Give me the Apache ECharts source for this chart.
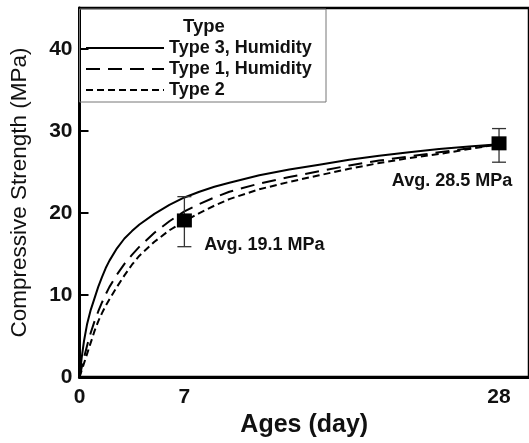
<!DOCTYPE html>
<html>
<head>
<meta charset="utf-8">
<script src="https://cdn.jsdelivr.net/npm/echarts@6/dist/echarts.min.js"></script>
<style>
  html, body { margin: 0; padding: 0; background: #fff; }
  #chart { width: 529px; height: 443px; }
</style>
</head>
<body>
<div id="chart"></div>
<script>
// Strength development curves (days vs MPa)
const type3Days = [0, 0.15, 0.3, 0.5, 0.75, 1, 1.25, 1.5, 1.75, 2, 2.5, 3, 3.5, 4, 5, 6, 7, 8, 9, 10, 12, 14, 16, 18, 20, 22, 24, 26, 28];
const type3Vals = [0, 2.4, 4.4, 6.4, 8.2, 9.6, 11.0, 12.2, 13.3, 14.2, 15.7, 16.9, 17.8, 18.6, 19.9, 21.0, 21.9, 22.6, 23.2, 23.7, 24.6, 25.3, 25.9, 26.5, 27.0, 27.4, 27.8, 28.1, 28.4];

const type1Days = [0, 0.25, 0.5, 0.75, 1, 1.25, 1.5, 1.75, 2, 2.5, 3, 3.5, 4, 5, 6, 7, 8, 9, 10, 12, 14, 16, 18, 20, 22, 24, 26, 28];
const type1Vals = [0, 2.0, 3.8, 5.4, 6.8, 8.0, 9.1, 10.1, 11.0, 12.5, 13.8, 14.9, 15.9, 17.6, 19.0, 20.2, 21.1, 21.9, 22.6, 23.6, 24.4, 25.1, 25.8, 26.4, 26.9, 27.4, 27.9, 28.4];

const type2Days = [0, 0.25, 0.5, 0.75, 1, 1.25, 1.5, 1.75, 2, 2.5, 3, 3.5, 4, 5, 6, 7, 8, 9, 10, 12, 14, 16, 18, 20, 22, 24, 26, 28];
const type2Vals = [0, 1.4, 2.8, 4.2, 5.6, 6.8, 7.8, 8.7, 9.5, 11.0, 12.4, 13.7, 14.8, 16.5, 17.9, 19.0, 20.0, 20.9, 21.7, 22.9, 23.8, 24.6, 25.4, 26.1, 26.7, 27.2, 27.8, 28.4];

// Measured averages with spread
const avgDays = [7, 28];
const avgVals = [19.1, 28.5];
const errLow = [15.9, 26.2];
const errHigh = [22.0, 30.3];

// Axis ticks
const xTicks = [0, 7, 28];
const yTicks = [0, 10, 20, 30, 40];

const seriesNames = ['Type 3, Humidity', 'Type 1, Humidity', 'Type 2'];
const legendTitle = 'Type';

const FONT = '"Liberation Sans", Arial, Helvetica, sans-serif';

const zip = (xs, ys) => xs.map((x, i) => [x, ys[i]]);

const chart = echarts.init(document.getElementById('chart'), null, { renderer: 'canvas' });

const lineBase = {
  type: 'line',
  symbol: 'none',
  showSymbol: false,
  smooth: false,
  silent: true,
  z: 3
};

const labelOffsets = [[80, 25], [-47, 38]];

chart.setOption({
  animation: false,
  backgroundColor: '#fff',
  textStyle: { fontFamily: FONT },
  grid: {
    left: 79.5, top: 8, width: 453.6, height: 383,
    show: true, borderColor: '#000', borderWidth: 2.5, backgroundColor: 'transparent'
  },
  xAxis: {
    type: 'value', min: 0, max: 30,
    name: 'Ages (day)', nameLocation: 'middle', nameGap: 34,
    nameTextStyle: { fontFamily: FONT, fontWeight: 'bold', fontSize: 25, color: '#111' },
    axisLine: { show: true, onZero: false, lineStyle: { color: '#000', width: 3 } },
    axisTick: { show: false },
    splitLine: { show: false },
    axisLabel: {
      customValues: xTicks, margin: 10,
      fontFamily: FONT, fontWeight: 'bold', fontSize: 21, color: '#111'
    }
  },
  yAxis: {
    type: 'value', min: 0, max: 45,
    name: 'Compressive Strength (MPa)', nameLocation: 'middle', nameGap: 48,
    nameTextStyle: { fontFamily: FONT, fontSize: 22.5, color: '#111' },
    axisLine: { show: true, onZero: false, lineStyle: { color: '#000', width: 3 } },
    axisTick: { show: true, inside: true, length: 9, customValues: yTicks, lineStyle: { color: '#000', width: 2 } },
    splitLine: { show: false },
    axisLabel: {
      customValues: yTicks, margin: 7,
      fontFamily: FONT, fontWeight: 'bold', fontSize: 21, color: '#111'
    }
  },
  legend: {
    data: seriesNames,
    orient: 'vertical',
    left: 85, top: 39,
    padding: 0,
    itemWidth: 78, itemHeight: 14, itemGap: 3,
    selectedMode: false,
    itemStyle: { opacity: 0 },
    textStyle: { fontFamily: FONT, fontWeight: 'bold', fontSize: 18, color: '#111' }
  },
  graphic: [
    {
      type: 'rect', silent: true, z: 1,
      shape: { x: 79.5, y: 9, width: 246.5, height: 93 },
      style: { fill: 'none', stroke: '#777', lineWidth: 1 }
    },
    {
      type: 'text', silent: true, z: 2,
      x: 204, y: 27,
      style: {
        text: legendTitle, fill: '#111',
        font: 'bold 18.5px ' + FONT,
        textAlign: 'center', textVerticalAlign: 'middle'
      }
    }
  ],
  series: [
    Object.assign({}, lineBase, {
      name: seriesNames[0],
      data: zip(type3Days, type3Vals),
      lineStyle: { color: '#000', width: 2, type: 'solid' },
      itemStyle: { color: '#000' }
    }),
    Object.assign({}, lineBase, {
      name: seriesNames[1],
      data: zip(type1Days, type1Vals),
      lineStyle: { color: '#000', width: 2, type: [14, 8] },
      itemStyle: { color: '#000' }
    }),
    Object.assign({}, lineBase, {
      name: seriesNames[2],
      data: zip(type2Days, type2Vals),
      lineStyle: { color: '#000', width: 2, type: [7, 4] },
      itemStyle: { color: '#000' }
    }),
    {
      type: 'custom',
      name: 'spread',
      silent: true,
      z: 4,
      data: avgDays.map((d, i) => [d, errLow[i], errHigh[i]]),
      renderItem: function (params, api) {
        const lo = api.coord([api.value(0), api.value(1)]);
        const hi = api.coord([api.value(0), api.value(2)]);
        const cap = 7;
        const style = { stroke: '#333', lineWidth: 1.3 };
        return {
          type: 'group',
          children: [
            { type: 'line', shape: { x1: lo[0], y1: lo[1], x2: hi[0], y2: hi[1] }, style: style },
            { type: 'line', shape: { x1: lo[0] - cap, y1: lo[1], x2: lo[0] + cap, y2: lo[1] }, style: style },
            { type: 'line', shape: { x1: hi[0] - cap, y1: hi[1], x2: hi[0] + cap, y2: hi[1] }, style: style }
          ]
        };
      }
    },
    {
      type: 'scatter',
      name: 'average',
      silent: true,
      z: 5,
      symbol: 'rect',
      symbolSize: [15, 14],
      itemStyle: { color: '#000', opacity: 1 },
      data: avgDays.map((d, i) => ({
        value: [d, avgVals[i]],
        label: {
          show: true,
          position: 'inside',
          offset: labelOffsets[i],
          formatter: p => 'Avg. ' + p.value[1].toFixed(1) + ' MPa',
          fontFamily: FONT, fontWeight: 'bold', fontSize: 18, color: '#111', opacity: 1
        }
      }))
    }
  ]
});
</script>
</body>
</html>
